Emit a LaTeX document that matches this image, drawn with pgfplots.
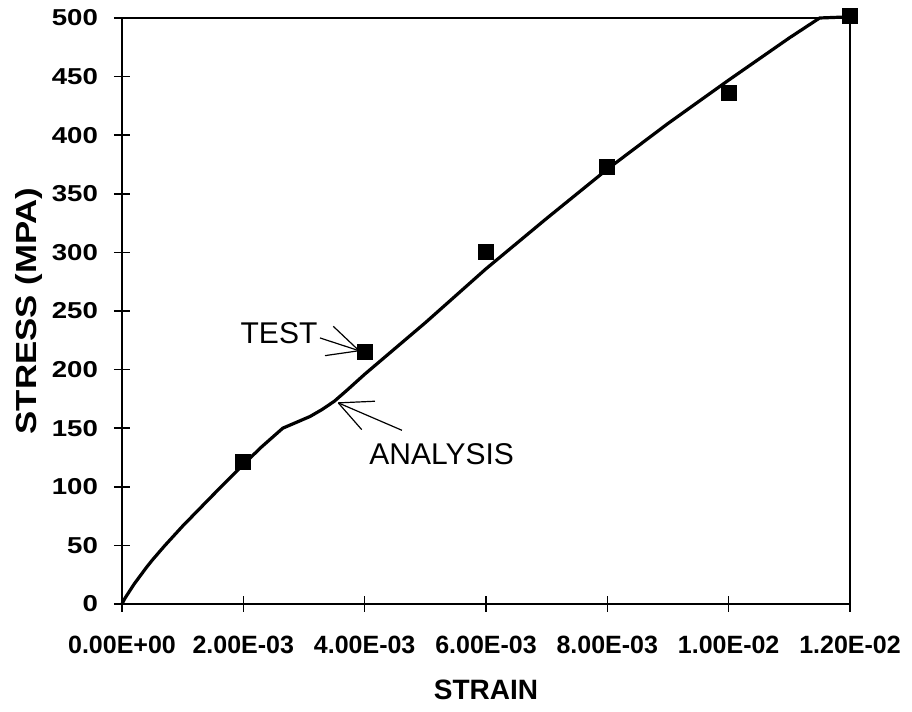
\documentclass[border=0pt]{standalone}
\usepackage{fontspec}
\setmainfont{Liberation Sans}
\newfontfamily\widesans{Liberation Sans}[FakeStretch=1.2]
\usepackage{pgfplots}
\pgfplotsset{compat=1.18}
\begin{document}
\begin{tikzpicture}
\useasboundingbox (-61pt,-54pt) rectangle (395pt,302pt);
\begin{axis}[
  scale only axis, width=364pt, height=293pt,
  at={(0,0)}, anchor=south west,
  xmin=0, xmax=0.012, ymin=0, ymax=500,
  clip=false,
  axis line style={line width=1.2pt},
  xtick={0,0.002,0.004,0.006,0.008,0.010,0.012},
  xticklabels={0.00E+00,2.00E-03,4.00E-03,6.00E-03,8.00E-03,1.00E-02,1.20E-02},
  ytick={0,50,100,150,200,250,300,350,400,450,500},
  yticklabels={0,50,100,150,200,250,300,350,400,450,500},
  scaled x ticks=false,
  xtick pos=left, ytick pos=left,
  tick align=center,
  major tick length=8pt,
  tick style={line width=0.8pt, black},
  xticklabel style={font=\fontsize{12.5}{14}\selectfont\bfseries, yshift=-8.5pt},
  yticklabel style={font=\widesans\fontsize{11.5}{13}\selectfont\bfseries, xshift=-4.5pt},
  xlabel={STRAIN}, ylabel={STRESS (MPA)},
  xlabel style={font=\fontsize{14}{16}\selectfont\bfseries, at={(axis description cs:0.5,0)}, anchor=center, yshift=-43pt},
  ylabel style={font=\widesans\fontsize{14.5}{16}\selectfont\bfseries, at={(axis description cs:-0.128,0.5)}, anchor=center},
]
\addplot[black, line width=1.6pt, no marks] coordinates {
(0,0) (0.00005,5) (0.0001,9) (0.0002,17) (0.0003,24) (0.0004,31) (0.0005,37.5)
(0.0007,49.5) (0.001,66.5) (0.0015,93) (0.002,119)
(0.0023,134) (0.00265,150) (0.0031,160) (0.0033,166) (0.0035,173) (0.0037,182)
(0.004,196) (0.005,240) (0.006,286) (0.007,329) (0.008,371) (0.009,410)
(0.010,447) (0.0105,465) (0.011,483) (0.0115,500) (0.012,501)
};
\addplot[black, only marks, mark=square*, mark size=3.75pt] coordinates {
(0.002,121) (0.004,215) (0.006,300) (0.008,373) (0.010,436) (0.012,502)
};
\draw[line width=0.6pt] (axis cs:0.003264,227) -- (axis cs:0.003908,216.1);
\draw[line width=0.6pt] (axis cs:0.003483,236.9) -- (axis cs:0.003908,216.1);
\draw[line width=0.6pt] (axis cs:0.003346,211.9) -- (axis cs:0.003908,216.1);
\node[font=\fontsize{15}{18}\selectfont] at (axis cs:0.002588,231) {TEST};
\draw[line width=0.6pt] (axis cs:0.004615,148.2) -- (axis cs:0.003565,171.6);
\draw[line width=0.6pt] (axis cs:0.00417,173) -- (axis cs:0.003565,171.6);
\draw[line width=0.6pt] (axis cs:0.003951,148.8) -- (axis cs:0.003565,171.6);
\node[font=\fontsize{15}{18}\selectfont] at (axis cs:0.00527,127.7) {ANALYSIS};
\end{axis}
\end{tikzpicture}
\end{document}
